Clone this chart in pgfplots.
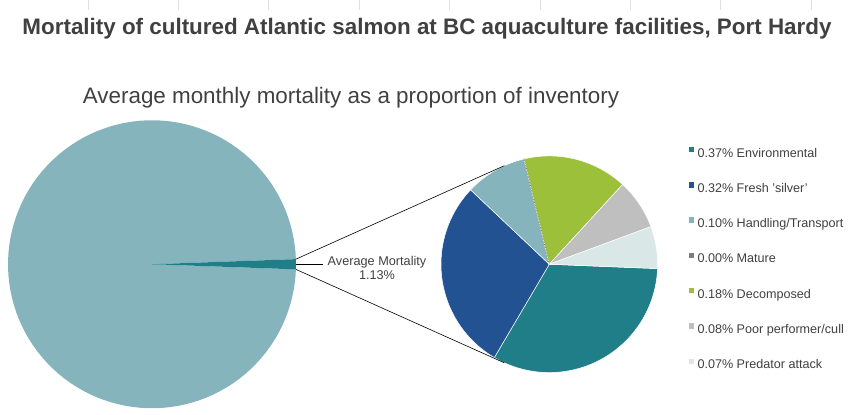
\documentclass[border=0pt]{standalone}
\usepackage{fontspec}
\setmainfont{Liberation Sans}
\usepackage{pgfplots}
\usepackage{pgfplotstable}
\pgfplotsset{compat=1.18}
\definecolor{bigc}{HTML}{86B4BD}
\definecolor{envc}{HTML}{1F7E87}
\definecolor{frc}{HTML}{235293}
\definecolor{hanc}{HTML}{86B4BD}
\definecolor{matc}{HTML}{7F7F7F}
\definecolor{decc}{HTML}{9DC03A}
\definecolor{poorc}{HTML}{BFBFBF}
\definecolor{predc}{HTML}{D9E8E6}
\definecolor{txt}{HTML}{404040}

% big pie: average mortality vs remainder (percent of inventory)
\pgfplotstableread{
cat value color
Mortality 1.13 envc
Remainder 98.87 bigc
}\bigpie

% small pie: breakdown of the 1.13 %
\pgfplotstableread{
cat value color
Environmental 0.371 envc
Fresh 0.323 frc
Handling 0.104 hanc
Mature 0.000 matc
Decomposed 0.176 decc
Poor 0.085 poorc
Predator 0.071 predc
}\smallpie

\newcommand{\pieslice}[7]{%
  \edef\doslice{\noexpand\addplot[forget plot, fill=#6, #7, domain=#4:#5, samples=120]
    ({#1+#3*cos(x)},{#2+#3*sin(x)}) -- (axis cs:#1,#2) -- cycle;}%
  \doslice}

\begin{document}
\begin{tikzpicture}
\begin{axis}[
  width=855bp, height=414bp, scale only axis,
  xmin=0, xmax=855, ymin=0, ymax=414,
  hide axis, clip=false,
  legend cell align=left,
  legend image code/.code={\fill[#1, draw=none] (0bp,1.8bp) rectangle (5.5bp,7.3bp);},
  legend style={at={(axis cs:688.5,267.5)}, anchor=north west, draw=none, fill=none,
    inner sep=0pt, outer sep=0pt, row sep=22bp, column sep=3.5bp,
    font=\fontsize{12.6bp}{15bp}\selectfont, text=txt,
    nodes={inner sep=0pt, text height=9bp, text depth=3bp}},
]
\path (axis cs:0,0) rectangle (axis cs:855,414);
% faint sheet gridlines at the top
\pgfplotsinvokeforeach{88,178,268,359,449,540,630,720,811}{
  \draw[black!12, line width=0.5pt] (axis cs:#1,414) -- (axis cs:#1,404.5);
}

% ---- big pie
\pgfplotstablegetelem{0}{value}\of\bigpie \let\vmort\pgfplotsretval
\pgfmathsetmacro\bigstart{-360*\vmort/100/2}
\pgfmathsetmacro\bigend{360*\vmort/100/2}
\pgfmathsetmacro\bigfull{360-360*\vmort/100/2}
\pieslice{152}{150}{144}{\bigend}{\bigfull}{bigc}{draw=none}
\pieslice{152}{150}{144}{\bigstart}{\bigend}{envc}{draw=none}

% ---- small pie
\gdef\cur{-2.3}
\gdef\matang{103.5}
\pgfplotsforeachungrouped \i in {0,...,6}{%
  \pgfplotstablegetelem{\i}{value}\of\smallpie \let\sliceval\pgfplotsretval
  \pgfplotstablegetelem{\i}{color}\of\smallpie \let\slicecol\pgfplotsretval
  \pgfmathsetmacro\nxt{\cur-360*\sliceval/\vmort}%
  \ifdim\sliceval pt>0pt
    \pieslice{549.3}{150}{108.3}{\nxt}{\cur}{\slicecol}{draw=white, line width=0.5pt}%
  \else
    \xdef\matang{\cur}%
  \fi
  \xdef\cur{\nxt}%
}
\pgfmathsetmacro\matend{\matang+0.01}
\edef\domat{\noexpand\addplot[forget plot, densely dotted, draw=matc!60!black, line width=0.6pt, domain=\matang:\matend, samples=2]
   ({549.3+108.3*cos(x)},{150+108.3*sin(x)}) -- (axis cs:549.3,150);}
\domat

% ---- connector lines
\addplot[forget plot, black, line width=0.6pt] coordinates {(295.9,155.1) (504.4,248.6)};
\addplot[forget plot, black, line width=0.6pt] coordinates {(295.9,144.9) (504.4,51.4)};
\addplot[forget plot, black, line width=0.6pt] coordinates {(296,150) (323,150)};

% ---- legend
\addlegendimage{fill=envc}\addlegendentry{0.37\% Environmental}
\addlegendimage{fill=frc}\addlegendentry{0.32\% Fresh 'silver'}
\addlegendimage{fill=hanc}\addlegendentry{0.10\% Handling/Transport}
\addlegendimage{fill=matc}\addlegendentry{0.00\% Mature}
\addlegendimage{fill=decc}\addlegendentry{0.18\% Decomposed}
\addlegendimage{fill=poorc}\addlegendentry{0.08\% Poor performer/cull}
\addlegendimage{fill=predc}\addlegendentry{0.07\% Predator attack}

% ---- texts
\node[anchor=base, font=\fontsize{22.4bp}{26bp}\selectfont\bfseries, text=txt, inner sep=0pt]
  at (axis cs:427,379.7) {Mortality of cultured Atlantic salmon at BC aquaculture facilities, Port Hardy};
\node[anchor=base, font=\fontsize{22.4bp}{26bp}\selectfont, text=txt, inner sep=0pt]
  at (axis cs:351,310.7) {Average monthly mortality as a proportion of inventory};
\node[anchor=base, font=\fontsize{12.7bp}{15bp}\selectfont, text=txt, inner sep=0pt]
  at (axis cs:377,149) {Average Mortality};
\node[anchor=base, font=\fontsize{12.7bp}{15bp}\selectfont, text=txt, inner sep=0pt]
  at (axis cs:377,134.7) {1.13\%};
\end{axis}
\end{tikzpicture}
\end{document}
